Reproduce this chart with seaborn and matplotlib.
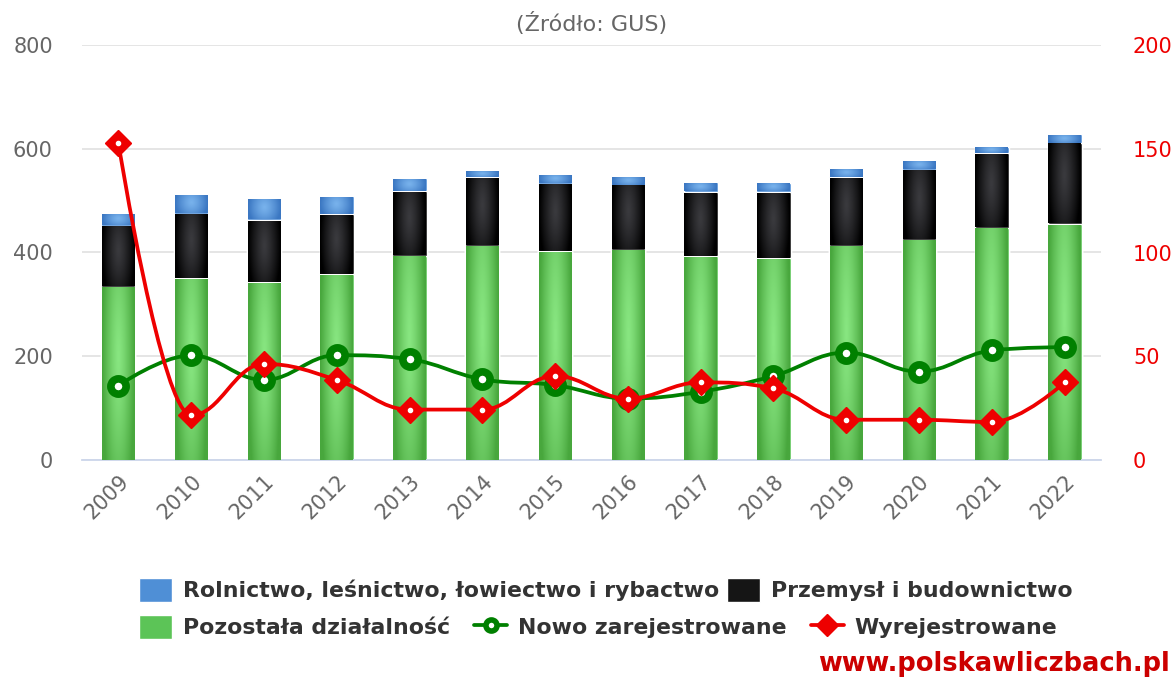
import numpy as np
import pandas as pd
import matplotlib
matplotlib.use("Agg")
import matplotlib.pyplot as plt
import seaborn as sns
from matplotlib.path import Path
from matplotlib.patches import PathPatch, Patch
from matplotlib.lines import Line2D
from matplotlib.colors import to_rgb

# dane
years = [str(y) for y in range(2009, 2023)]
pozostala = [334, 350, 343, 358, 394, 413, 402, 405, 393, 389, 413, 425, 448, 455]
przemysl = [118, 125, 120, 116, 124, 132, 131, 125, 124, 128, 132, 135, 143, 156]
rolnictwo = [24, 37, 41, 34, 25, 13, 17, 17, 18, 17, 17, 18, 13, 18]
nowo = [35.8, 50.4, 38.6, 50.5, 48.6, 38.9, 36.1, 29.6, 32.9, 40.5, 51.8, 42.6, 52.8, 54.4]
wyrej = [152.8, 21.5, 46.3, 38.6, 24.3, 24.3, 40.5, 29.6, 37.4, 34.5, 19.4, 19.4, 18.3, 37.4]

labels = ["Rolnictwo, leśnictwo, łowiectwo i rybactwo", "Przemysł i budownictwo",
          "Pozostała działalność", "Nowo zarejestrowane", "Wyrejestrowane"]

sns.set_style("white")
plt.rcParams['font.family'] = ['DejaVu Sans']

df = pd.DataFrame({"rok": years, "poz": pozostala, "prz": przemysl, "rol": rolnictwo})
df["top2"] = df["poz"] + df["prz"]
df["top3"] = df["top2"] + df["rol"]

BLUE = "#4f8fd6"
BLACK = "#151515"
GREEN = "#5cc457"
LGREEN = "#008000"
RED = "#ee0000"
GREY = "#666666"

fig = plt.figure(figsize=(11.76, 6.8), dpi=100)
ax = fig.add_axes([82/1176, 1-460/680, (1101-82)/1176, (460-45)/680])

bw = 0.47
sns.barplot(data=df, x="rok", y="top3", color=BLUE, width=bw, ax=ax,
            edgecolor="white", linewidth=1, saturation=1)
sns.barplot(data=df, x="rok", y="top2", color=BLACK, width=bw, ax=ax,
            edgecolor="white", linewidth=1, saturation=1)
sns.barplot(data=df, x="rok", y="poz", color=GREEN, width=bw, ax=ax,
            edgecolor="white", linewidth=1, saturation=1)

# gradient na slupkach
def shade(x0, y0, y1, light, dark):
    u = np.linspace(-1, 1, 40)
    v = np.linspace(-1, 1, 60)
    U, V = np.meshgrid(u, v)
    t = np.clip(np.sqrt(U**2 + 0.25 * (V - 0.2)**2), 0, 1) ** 1.3
    img = np.array(to_rgb(light)) * (1 - t)[..., None] + np.array(to_rgb(dark)) * t[..., None]
    ax.imshow(img, extent=[x0 + 0.01, x0 + bw - 0.01, y0, y1 - 2], origin="lower",
              aspect="auto", zorder=5, interpolation="bilinear")

for i in range(len(years)):
    x0 = i - bw / 2
    shade(x0, 0, pozostala[i], "#88e681", "#48a73d")
    shade(x0, df["poz"][i] + 1, df["top2"][i], "#3a3a3e", "#000000")
    shade(x0, df["top2"][i] + 1, df["top3"][i], "#78b2ec", "#3b77c2")

ax.set_xlim(-0.5, len(years) - 0.5)
ax.set_ylim(0, 800)
ax.set_yticks([0, 200, 400, 600, 800])
ax.yaxis.grid(True, color="#e3e3e3", linewidth=1.3)
ax.set_axisbelow(True)
ax.set_xlabel("")
ax.set_ylabel("")
for s in ["top", "left", "right"]:
    ax.spines[s].set_visible(False)
ax.spines["bottom"].set_color("#ccd6eb")
ax.spines["bottom"].set_linewidth(1.3)
ax.set_xticks(np.arange(-0.5, len(years)), minor=True)
ax.tick_params(axis="x", which="minor", length=10, color="#ccd6eb", width=1.3)
ax.tick_params(axis="x", which="major", length=0, pad=8, labelsize=15, labelcolor=GREY)
ax.tick_params(axis="y", length=0, pad=21, labelsize=15, labelcolor=GREY)
for lab in ax.get_xticklabels():
    lab.set_rotation(45)
    lab.set_ha("right")
    lab.set_rotation_mode("anchor")

# os prawa
ax2 = ax.twinx()
ax2.set_ylim(0, 200)
ax2.set_yticks([0, 50, 100, 150, 200])
for s in ax2.spines.values():
    s.set_visible(False)
ax2.tick_params(axis="y", length=0, pad=23, labelsize=15, labelcolor=RED)


def spline_path(xs, ys, sm=1.5):
    n = len(xs)
    lc = [None] * n
    rc = [None] * n
    den = sm + 1
    for i in range(n):
        x, y = xs[i], ys[i]
        if i == 0 or i == n - 1:
            lc[i] = rc[i] = (x, y)
            continue
        px, py = xs[i - 1], ys[i - 1]
        nx, ny = xs[i + 1], ys[i + 1]
        lcx, lcy = (sm * x + px) / den, (sm * y + py) / den
        rcx, rcy = (sm * x + nx) / den, (sm * y + ny) / den
        if rcx != lcx:
            corr = (rcy - lcy) * (rcx - x) / (rcx - lcx) + y - rcy
            lcy += corr
            rcy += corr
        if lcy > py and lcy > y:
            lcy = max(py, y); rcy = 2 * y - lcy
        elif lcy < py and lcy < y:
            lcy = min(py, y); rcy = 2 * y - lcy
        if rcy > ny and rcy > y:
            rcy = max(ny, y); lcy = 2 * y - rcy
        elif rcy < ny and rcy < y:
            rcy = min(ny, y); lcy = 2 * y - rcy
        lc[i] = (lcx, lcy)
        rc[i] = (rcx, rcy)
    verts = [(xs[0], ys[0])]
    codes = [Path.MOVETO]
    for i in range(1, n):
        verts += [rc[i - 1], lc[i], (xs[i], ys[i])]
        codes += [Path.CURVE4] * 3
    return Path(verts, codes)


xs = list(range(len(years)))
ax2.add_patch(PathPatch(spline_path(xs, nowo), fill=False, edgecolor=LGREEN, lw=2.7, zorder=3))
ax2.plot(xs, nowo, linestyle="none", marker="o", markersize=11, mfc="white",
         mec=LGREEN, mew=5.5, zorder=4)
ax2.add_patch(PathPatch(spline_path(xs, wyrej), fill=False, edgecolor=RED, lw=2.7, zorder=5))
ax2.plot(xs, wyrej, linestyle="none", marker="D", markersize=13, color=RED, zorder=6)
ax2.plot(xs, wyrej, linestyle="none", marker="o", markersize=3, color="white", zorder=7)

# tytul i legenda
fig.text(592/1176, 1 - 24/680, "(Źródło: GUS)", ha="center", va="center", fontsize=16, color=GREY)

h_rol = Patch(facecolor=BLUE)
h_prz = Patch(facecolor=BLACK)
h_poz = Patch(facecolor=GREEN)
h_now = Line2D([], [], color=LGREEN, lw=2.7, marker="o", markersize=8, mfc="white", mec=LGREEN, mew=4)
h_wyr = Line2D([], [], color=RED, lw=2.7, marker="D", markersize=11)

leg_kw = dict(loc="center left", frameon=False, prop={"size": 15.8, "weight": "bold"},
              handletextpad=0.5, borderpad=0, borderaxespad=0,
              handlelength=1.5, handleheight=1.3)
leg1 = fig.legend([h_rol, h_prz], labels[:2], ncol=2, columnspacing=0.35,
                  bbox_to_anchor=(139/1176, 1 - 590/680), **leg_kw)
leg2 = fig.legend([h_poz, h_now, h_wyr], labels[2:], ncol=3, columnspacing=1.1,
                  bbox_to_anchor=(139/1176, 1 - 627/680), **leg_kw)
for lg in (leg1, leg2):
    for t in lg.get_texts():
        t.set_color("#333333")

fig.text(1170/1176, 1 - 664/680, "www.polskawliczbach.pl", ha="right", va="center",
         fontsize=18.5, weight="bold", color="#cc0000")

fig.savefig("out.png", dpi=100)
